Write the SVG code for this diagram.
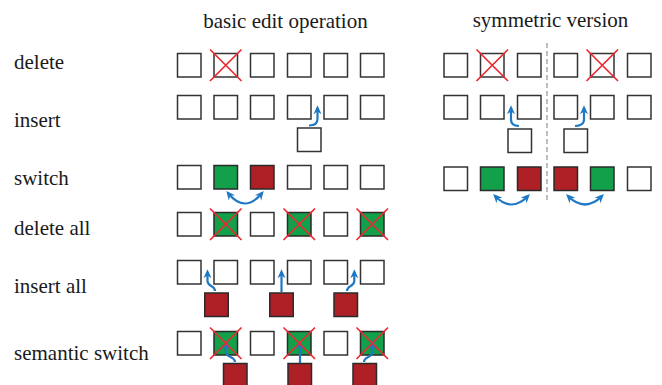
<svg xmlns="http://www.w3.org/2000/svg" width="662" height="385" viewBox="0 0 662 385">
<defs>
<style>
.t{text-anchor:middle}
.b{fill:#fff;stroke:#333;stroke-width:1.5}
.g{fill:#12a04a;stroke:#2a2a2a;stroke-width:1.5}
.r{fill:#af2026;stroke:#2a2a2a;stroke-width:1.5}
.x{stroke:#ea2a30;stroke-width:1.7;fill:none}
.a{fill:none;stroke:#1f78c4;stroke-width:2.2;marker-end:url(#ah)}
.d{marker-start:url(#ah)}
.sep{stroke:#aaa;stroke-width:1.5;stroke-dasharray:5 3}
</style>
<marker id="ah" viewBox="0 0 10 10" refX="7" refY="5" markerWidth="9" markerHeight="9" markerUnits="userSpaceOnUse" orient="auto-start-reverse">
<path d="M0,0.5 L10,5 L0,9.5 L3,5 z" fill="#1f78c4"/>
</marker>
<rect id="bx" width="23.5" height="23.5"/>
<path id="cr" d="M-4,-4 L27.5,27.5 M27.5,-4 L-4,27.5"/>
</defs>
<rect width="662" height="385" fill="#fff"/>

<g id="labels" font-family="'Liberation Serif', 'Times New Roman', Times, serif" font-size="21" fill="#1a1a1a">
<text class="t" x="285.5" y="28">basic edit operation</text>
<text class="t" x="550.5" y="27">symmetric version</text>
<text x="14" y="69">delete</text>
<text x="14" y="127">insert</text>
<text x="14" y="185">switch</text>
<text x="14" y="235">delete all</text>
<text x="14" y="293">insert all</text>
<text x="14" y="360">semantic switch</text>
</g>

<line class="sep" x1="547" y1="43" x2="547" y2="200"/>

<g id="del">
<use href="#bx" class="b" x="177.5" y="53.5"/>
<use href="#bx" class="b" x="214" y="53.5"/>
<use href="#cr" class="x" x="214" y="53.5"/>
<use href="#bx" class="b" x="250.5" y="53.5"/>
<use href="#bx" class="b" x="287.5" y="53.5"/>
<use href="#bx" class="b" x="324" y="53.5"/>
<use href="#bx" class="b" x="360.5" y="53.5"/>
</g>
<g id="ins">
<use href="#bx" class="b" x="177.5" y="95.5"/>
<use href="#bx" class="b" x="214" y="95.5"/>
<use href="#bx" class="b" x="250.5" y="95.5"/>
<use href="#bx" class="b" x="287.5" y="95.5"/>
<use href="#bx" class="b" x="324" y="95.5"/>
<use href="#bx" class="b" x="360.5" y="95.5"/>
<use href="#bx" class="b" x="297.5" y="128"/>
</g>
<g id="sw">
<use href="#bx" class="b" x="177.5" y="165.5"/>
<use href="#bx" class="g" x="214" y="165.5"/>
<use href="#bx" class="r" x="250.5" y="165.5"/>
<use href="#bx" class="b" x="287.5" y="165.5"/>
<use href="#bx" class="b" x="324" y="165.5"/>
<use href="#bx" class="b" x="360.5" y="165.5"/>
</g>
<g id="delall">
<use href="#bx" class="b" x="177.5" y="212.5"/>
<use href="#bx" class="g" x="214" y="212.5"/>
<use href="#cr" class="x" x="214" y="212.5"/>
<use href="#bx" class="b" x="250.5" y="212.5"/>
<use href="#bx" class="g" x="287.5" y="212.5"/>
<use href="#cr" class="x" x="287.5" y="212.5"/>
<use href="#bx" class="b" x="324" y="212.5"/>
<use href="#bx" class="g" x="360.5" y="212.5"/>
<use href="#cr" class="x" x="360.5" y="212.5"/>
</g>
<g id="insall">
<use href="#bx" class="b" x="177.5" y="260.5"/>
<use href="#bx" class="b" x="214" y="260.5"/>
<use href="#bx" class="b" x="250.5" y="260.5"/>
<use href="#bx" class="b" x="287.5" y="260.5"/>
<use href="#bx" class="b" x="324" y="260.5"/>
<use href="#bx" class="b" x="360.5" y="260.5"/>
<use href="#bx" class="r" x="204.75" y="293"/>
<use href="#bx" class="r" x="269.75" y="293"/>
<use href="#bx" class="r" x="334" y="293"/>
</g>
<g id="semsw">
<use href="#bx" class="b" x="177.5" y="331.5"/>
<use href="#bx" class="g" x="214" y="331.5"/>
<use href="#bx" class="b" x="250.5" y="331.5"/>
<use href="#bx" class="g" x="287.5" y="331.5"/>
<use href="#bx" class="b" x="324" y="331.5"/>
<use href="#bx" class="g" x="360.5" y="331.5"/>
<use href="#bx" class="r" x="223.5" y="363.5"/>
<use href="#bx" class="r" x="288" y="363.5"/>
<use href="#bx" class="r" x="353" y="363.5"/>
</g>

<g id="sdel">
<use href="#bx" class="b" x="444" y="53.5"/>
<use href="#bx" class="b" x="480.5" y="53.5"/>
<use href="#cr" class="x" x="480.5" y="53.5"/>
<use href="#bx" class="b" x="517.5" y="53.5"/>
<use href="#bx" class="b" x="554" y="53.5"/>
<use href="#bx" class="b" x="590.5" y="53.5"/>
<use href="#cr" class="x" x="590.5" y="53.5"/>
<use href="#bx" class="b" x="627.5" y="53.5"/>
</g>
<g id="sins">
<use href="#bx" class="b" x="444" y="95.5"/>
<use href="#bx" class="b" x="480.5" y="95.5"/>
<use href="#bx" class="b" x="517.5" y="95.5"/>
<use href="#bx" class="b" x="554" y="95.5"/>
<use href="#bx" class="b" x="590.5" y="95.5"/>
<use href="#bx" class="b" x="627.5" y="95.5"/>
<use href="#bx" class="b" x="508" y="129"/>
<use href="#bx" class="b" x="564" y="129"/>
</g>
<g id="ssw">
<use href="#bx" class="b" x="444" y="167"/>
<use href="#bx" class="g" x="480.5" y="167"/>
<use href="#bx" class="r" x="517.5" y="167"/>
<use href="#bx" class="r" x="554" y="167"/>
<use href="#bx" class="g" x="590.5" y="167"/>
<use href="#bx" class="b" x="627.5" y="167"/>
</g>

<g id="connectors">
<path class="a" d="M309 125.5 C313.5 125.5 317.5 124 317.5 119 L317.5 108"/>
<path class="a d" d="M228 193 Q245 214 262 193"/>
<path class="a" d="M215 291 C215 285 207.5 287 207.5 281 L207.5 272"/>
<path class="a" d="M281.5 292 L281.5 272"/>
<path class="a" d="M347 291 C347 285 354.3 287 354.3 281 L354.3 272"/>
<path class="a" d="M235 362 C235 356 226 358 226 352 L226 343"/>
<path class="a" d="M300 363 L300 343"/>
<path class="a" d="M364 362 C364 356 372.5 358 372.5 352 L372.5 343"/>
<path class="a" d="M519 126 C515 126 511 124.5 511 119.5 L511 108"/>
<path class="a" d="M575 126 C579 126 584 124.5 584 119.5 L584 108"/>
<path class="a d" d="M495 196 Q511.5 213 528 196"/>
<path class="a d" d="M568 196 Q585 213 602 196"/>
</g>
<g id="semsw-x">
<use href="#cr" class="x" x="214" y="331.5"/>
<use href="#cr" class="x" x="287.5" y="331.5"/>
<use href="#cr" class="x" x="360.5" y="331.5"/>
</g>
</svg>
